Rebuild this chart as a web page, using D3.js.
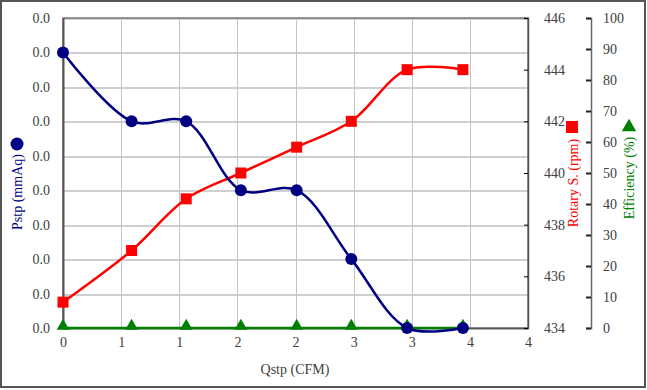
<!DOCTYPE html>
<meta charset="utf-8">
<style>
	body { margin: 0; background: #fff; }
	text {
		font-family: "Liberation Serif", "Times New Roman", serif;
		font-size: 14px;
	}
	.grid line { shape-rendering: crispEdges; }
</style>
<svg width="647" height="390"></svg>
<script src="https://d3js.org/d3.v7.min.js"></script>
<script>

	// chart data
	var qstp = [0, 0.59, 1.06, 1.53, 2.01, 2.48, 2.96, 3.44];
	var pstp = [0.04, 0.03, 0.03, 0.02, 0.02, 0.01, 0, 0];
	var rotary = [435, 437, 439, 440, 441, 442, 444, 444];
	var efficiency = [0, 0, 0, 0, 0, 0, 0, 0];

	var xTicks = d3.range(0, 4.001, 0.5);
	var pTicks = d3.range(0, 0.0451, 0.005);
	var rTicks = d3.range(434, 446.1, 2);
	var eTicks = d3.range(0, 100.1, 10);

	var svg = d3.select("svg");
	// note: "top" is a reserved window global, so use plot* names
	var plotLeft = 63, plotRight = 528, plotTop = 18, plotBottom = 328;
	var axisColor = "#404040";

	var x = d3.scaleLinear().domain([0, 4]).range([plotLeft, plotRight]);
	var yP = d3.scaleLinear().domain([0, 0.045]).range([plotBottom, plotTop]);
	var yR = d3.scaleLinear().domain([434, 446]).range([plotBottom, plotTop]);
	var yE = d3.scaleLinear().domain([0, 100]).range([plotBottom, plotTop]);

	// outer frame
	svg.append("rect")
		.attr("x", 1).attr("y", 1)
		.attr("width", 644).attr("height", 386)
		.attr("fill", "none")
		.attr("stroke", "#555")
		.attr("stroke-width", 2);

	// gridlines
	var grid = svg.append("g").attr("class", "grid");
	grid.selectAll(".h")
		.data(pTicks)
		.enter().append("line")
		.attr("x1", plotLeft).attr("x2", plotRight)
		.attr("y1", function (d) { return Math.round(yP(d)) + 0.5; })
		.attr("y2", function (d) { return Math.round(yP(d)) + 0.5; })
		.attr("stroke", "#cfcfcf")
		.attr("stroke-width", 2);
	grid.selectAll(".v")
		.data(xTicks)
		.enter().append("line")
		.attr("x1", function (d) { return Math.round(x(d)) + 0.5; })
		.attr("x2", function (d) { return Math.round(x(d)) + 0.5; })
		.attr("y1", plotTop).attr("y2", plotBottom)
		.attr("stroke", "#c4c4c4")
		.attr("stroke-width", 1);

	// plot border
	svg.append("rect")
		.attr("x", plotLeft).attr("y", plotTop)
		.attr("width", plotRight - plotLeft).attr("height", plotBottom - plotTop)
		.attr("fill", "none")
		.attr("stroke", "#777")
		.attr("stroke-width", 1.5);

	// left axis
	var leftAxis = svg.append("g")
		.attr("transform", "translate(" + plotLeft + ",0)")
		.call(d3.axisLeft(yP).tickValues(pTicks).tickFormat(d3.format(".1f")).tickSize(0).tickPadding(13));
	leftAxis.select(".domain").attr("stroke", "#555").attr("stroke-width", 2);

	// bottom axis, Excel rounds 0.5 up
	var bottomAxis = svg.append("g")
		.attr("transform", "translate(0," + plotBottom + ")")
		.call(d3.axisBottom(x).tickValues(xTicks).tickFormat(function (d) { return Math.round(d); }).tickSize(0).tickPadding(9));
	bottomAxis.select(".domain").attr("stroke", "#555").attr("stroke-width", 1.5);

	// rpm axis on plot right edge, ticks inward
	var rAxis = svg.append("g")
		.attr("transform", "translate(" + plotRight + ",0)")
		.call(d3.axisRight(yR).tickValues(rTicks).tickSize(-4).tickPadding(16));
	rAxis.select(".domain").attr("stroke", "#555").attr("stroke-width", 1.5);

	// efficiency axis
	var eAxis = svg.append("g")
		.attr("transform", "translate(591,0)")
		.call(d3.axisRight(yE).tickValues(eTicks).tickSizeInner(-5).tickSizeOuter(-5).tickPadding(12));
	eAxis.select(".domain").attr("stroke", "#666").attr("stroke-width", 1.5);
	eAxis.selectAll(".tick line").attr("stroke", "#222").attr("stroke-width", 2);

	svg.selectAll(".tick text")
		.attr("fill", axisColor)
		.style("font-family", "'Liberation Serif', 'Times New Roman', serif")
		.style("font-size", "14px");

	// series
	var curve = d3.curveCatmullRom.alpha(0.5);

	function series(values, yScale, color) {
		var pts = qstp.map(function (q, i) { return [x(q), yScale(values[i])]; });
		svg.append("path")
			.attr("d", d3.line().curve(curve)(pts))
			.attr("fill", "none")
			.attr("stroke", color)
			.attr("stroke-width", 2.5);
		return pts;
	}

	var ePts = series(efficiency, yE, "#008000");
	var rPts = series(rotary, yR, "#ff0000");
	var pPts = series(pstp, yP, "#000080");

	svg.append("g").selectAll("path")
		.data(ePts)
		.enter().append("path")
		.attr("d", d3.symbol().type(d3.symbolTriangle).size(70))
		.attr("transform", function (d) { return "translate(" + d[0] + "," + (d[1] - 2) + ")"; })
		.attr("fill", "#008000");

	svg.append("g").selectAll("rect")
		.data(rPts)
		.enter().append("rect")
		.attr("x", function (d) { return d[0] - 5.5; })
		.attr("y", function (d) { return d[1] - 5.5; })
		.attr("width", 11).attr("height", 11)
		.attr("fill", "#ff0000");

	svg.append("g").selectAll("circle")
		.data(pPts)
		.enter().append("circle")
		.attr("cx", function (d) { return d[0]; })
		.attr("cy", function (d) { return d[1]; })
		.attr("r", 6)
		.attr("fill", "#000080");

	// axis titles
	svg.append("text")
		.attr("x", 295).attr("y", 374)
		.attr("text-anchor", "middle")
		.attr("fill", axisColor)
		.text("Qstp (CFM)");

	svg.append("text")
		.attr("transform", "translate(22,192) rotate(-90)")
		.attr("text-anchor", "middle")
		.attr("fill", "#000080")
		.text("Pstp (mmAq)");
	svg.append("circle")
		.attr("cx", 17).attr("cy", 144).attr("r", 6.5)
		.attr("fill", "#000080");

	svg.append("text")
		.attr("transform", "translate(578,183) rotate(-90)")
		.attr("text-anchor", "middle")
		.attr("fill", "#ff0000")
		.text("Rotary S. (rpm)");
	svg.append("rect")
		.attr("x", 566).attr("y", 121)
		.attr("width", 12).attr("height", 12)
		.attr("fill", "#ff0000");

	svg.append("text")
		.attr("transform", "translate(634,178) rotate(-90)")
		.attr("text-anchor", "middle")
		.attr("fill", "#008000")
		.text("Efficiency (%)");
	svg.append("path")
		.attr("d", d3.symbol().type(d3.symbolTriangle).size(90))
		.attr("transform", "translate(629,127)")
		.attr("fill", "#008000");

</script>
